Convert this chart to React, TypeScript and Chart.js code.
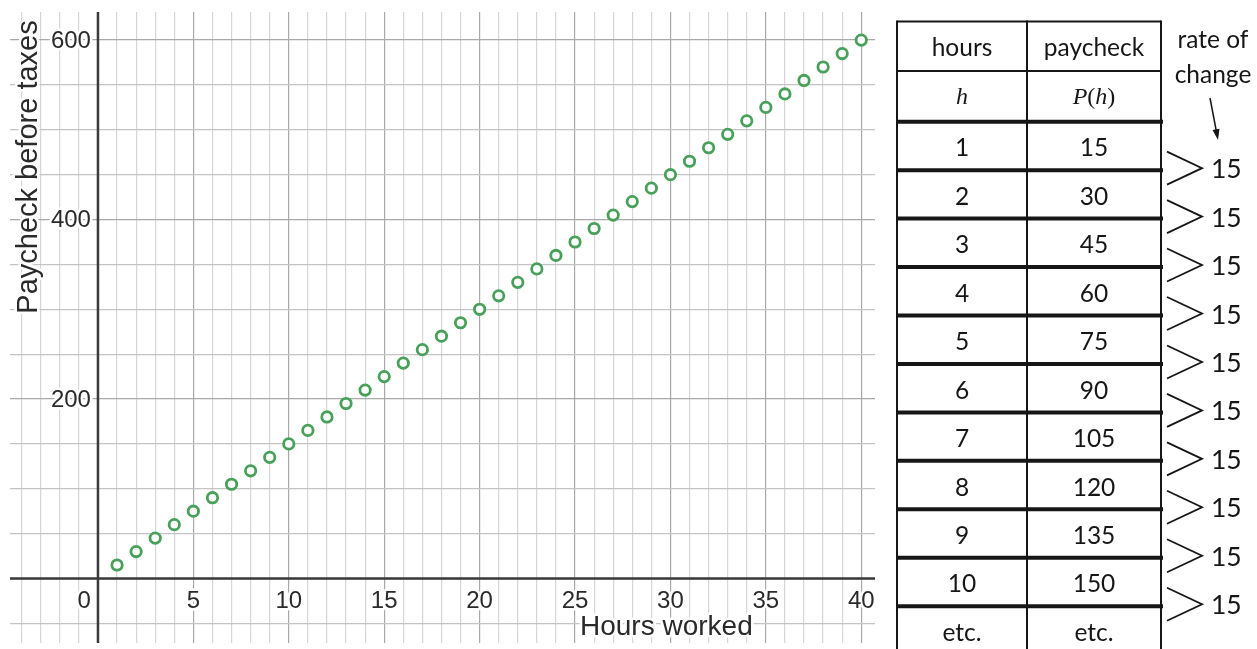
import React, { useEffect, useRef } from "react";
import { Chart, registerables } from "chart.js";

Chart.register(...registerables);

// ---- data ----
const hoursWorked = [1, 2, 3, 4, 5, 6, 7, 8, 9, 10, 11, 12, 13, 14, 15, 16, 17, 18, 19, 20, 21, 22, 23, 24, 25, 26, 27, 28, 29, 30, 31, 32, 33, 34, 35, 36, 37, 38, 39, 40];
const paycheckValues = [15, 30, 45, 60, 75, 90, 105, 120, 135, 150, 165, 180, 195, 210, 225, 240, 255, 270, 285, 300, 315, 330, 345, 360, 375, 390, 405, 420, 435, 450, 465, 480, 495, 510, 525, 540, 555, 570, 585, 600];
const xTickLabels = [0, 5, 10, 15, 20, 25, 30, 35, 40];
const yTickLabels = [200, 400, 600];
const xAxisTitle = "Hours worked";
const yAxisTitle = "Paycheck before taxes";

const tableHeaders = ["hours", "paycheck"];
const tableHours = ["1", "2", "3", "4", "5", "6", "7", "8", "9", "10", "etc."];
const tablePaycheck = ["15", "30", "45", "60", "75", "90", "105", "120", "135", "150", "etc."];
const rateOfChange = ["15", "15", "15", "15", "15", "15", "15", "15", "15", "15"];
const rateTitle = ["rate of", "change"];

// ---- style ----
const GREEN = "#48a05a";
const MINOR = "#d6d6d6";
const MAJOR = "#a9a9a9";
const AXIS = "#3a3a3a";
const LABEL = "#2a2a2a";
const SANS = '"Liberation Sans", Arial, sans-serif';
const TABLE_FONT = 'Lato, "Open Sans", sans-serif';

const X_MIN = -4.61;
const X_MAX = 40.72;
const Y_MIN = -71.9;
const Y_MAX = 631.3;

const gridX: number[] = [];
for (let v = -4; v <= 40; v++) gridX.push(v);
const gridY: number[] = [];
for (let v = -50; v <= 600; v += 50) gridY.push(v);

const desmosPlugin = {
  id: "desmosAxes",
  beforeDatasetsDraw(chart: any) {
    const { ctx, chartArea, scales } = chart;
    const x = scales.x;
    const y = scales.y;
    const x0 = x.getPixelForValue(0);
    const y0 = y.getPixelForValue(0);
    ctx.save();
    // axes
    ctx.strokeStyle = AXIS;
    ctx.lineWidth = 2.5;
    ctx.beginPath();
    ctx.moveTo(chartArea.left, y0);
    ctx.lineTo(chartArea.right, y0);
    ctx.moveTo(x0, chartArea.top);
    ctx.lineTo(x0, chartArea.bottom);
    ctx.stroke();

    // tick labels with white halo
    ctx.font = `24px ${SANS}`;
    ctx.lineJoin = "round";
    ctx.textBaseline = "middle";
    const drawLabel = (t: string, px: number, py: number) => {
      ctx.strokeStyle = "white";
      ctx.lineWidth = 5;
      ctx.strokeText(t, px, py);
      ctx.fillStyle = LABEL;
      ctx.fillText(t, px, py);
    };
    for (const v of xTickLabels) {
      if (v === 0) {
        ctx.textAlign = "right";
        drawLabel(String(v), x0 - 7, y0 + 23);
      } else {
        ctx.textAlign = "center";
        drawLabel(String(v), x.getPixelForValue(v), y0 + 23);
      }
    }
    ctx.textAlign = "right";
    for (const v of yTickLabels) {
      drawLabel(String(v), x0 - 7, y.getPixelForValue(v) + 1);
    }

    // axis titles
    ctx.font = `28px ${SANS}`;
    ctx.textBaseline = "alphabetic";
    ctx.textAlign = "left";
    ctx.strokeStyle = "white";
    ctx.lineWidth = 5;
    ctx.strokeText(xAxisTitle, 570, chartArea.bottom - 8);
    ctx.fillStyle = LABEL;
    ctx.fillText(xAxisTitle, 570, chartArea.bottom - 8);

    ctx.translate(27, 155);
    ctx.rotate(-Math.PI / 2);
    ctx.font = `29px ${SANS}`;
    ctx.textAlign = "center";
    ctx.strokeText(yAxisTitle, 0, 0);
    ctx.fillText(yAxisTitle, 0, 0);
    ctx.restore();
  },
};

function PlotCanvas() {
  const ref = useRef<HTMLCanvasElement | null>(null);
  useEffect(() => {
    if (!ref.current) return;
    const chart = new Chart(ref.current, {
      type: "scatter",
      data: {
        datasets: [
          {
            data: hoursWorked.map((h, i) => ({ x: h, y: paycheckValues[i] })),
            pointRadius: 5.2,
            pointBorderWidth: 2.8,
            borderColor: GREEN,
            backgroundColor: "white",
            pointBackgroundColor: "white",
            pointBorderColor: GREEN,
          },
        ],
      },
      options: {
        animation: false,
        responsive: false,
        maintainAspectRatio: false,
        devicePixelRatio: 1,
        layout: { padding: 0, autoPadding: false },
        plugins: { legend: { display: false }, tooltip: { enabled: false } },
        events: [],
        scales: {
          x: {
            type: "linear",
            min: X_MIN,
            max: X_MAX,
            afterBuildTicks: (s: any) => {
              s.ticks = gridX.map((v) => ({ value: v }));
            },
            ticks: { display: false },
            border: { display: false },
            grid: {
              drawTicks: false,
              lineWidth: 1.2,
              color: (c: any) => (c.tick && c.tick.value % 5 === 0 ? MAJOR : MINOR),
            },
          },
          y: {
            type: "linear",
            min: Y_MIN,
            max: Y_MAX,
            afterBuildTicks: (s: any) => {
              s.ticks = gridY.map((v) => ({ value: v }));
            },
            ticks: { display: false },
            border: { display: false },
            grid: {
              drawTicks: false,
              lineWidth: 1.2,
              color: (c: any) => (c.tick && c.tick.value % 200 === 0 ? MAJOR : "#c4c4c4"),
            },
          },
        },
      },
      plugins: [desmosPlugin],
    } as any);
    return () => chart.destroy();
  }, []);
  return (
    <canvas
      ref={ref}
      width={865}
      height={631}
      style={{ position: "absolute", left: 10, top: 12, width: 865, height: 631 }}
    />
  );
}

function RateTable() {
  const L = 897;
  const M = 1027;
  const R = 1161;
  const c1 = (L + M) / 2;
  const c2 = (M + R) / 2;
  const top = 21.5;
  const headLine = 71;
  const bodyTop = 121.7;
  const rowH = 48.45;
  const bounds = tableHours.map((_, i) => bodyTop + rowH * (i + 1));
  const ink = "#161616";
  return (
    <svg
      width={1257}
      height={649}
      style={{ position: "absolute", left: 0, top: 0, overflow: "hidden" }}
    >
      {/* vertical borders */}
      {[L, M, R].map((xv) => (
        <line key={"v" + xv} x1={xv} x2={xv} y1={top - 1} y2={649} stroke={ink} strokeWidth={2} />
      ))}
      <line x1={L} x2={R} y1={top} y2={top} stroke={ink} strokeWidth={2} />
      <line x1={L} x2={R} y1={headLine} y2={headLine} stroke={ink} strokeWidth={2} />
      <line x1={L} x2={R + 2} y1={bodyTop} y2={bodyTop} stroke={ink} strokeWidth={4} />
      {bounds.slice(0, tableHours.length - 1).map((b, i) => (
        <line key={"h" + i} x1={L} x2={R + 2} y1={b} y2={b} stroke={ink} strokeWidth={4} />
      ))}
      {/* headers */}
      <g fontFamily={TABLE_FONT} fontSize={24.5} fill={ink} textAnchor="middle" dominantBaseline="central">
        <text x={c1} y={(top + headLine) / 2}>{tableHeaders[0]}</text>
        <text x={c2} y={(top + headLine) / 2}>{tableHeaders[1]}</text>
      </g>
      <g fontFamily='"Liberation Serif", "DejaVu Serif", serif' fontSize={24} fill={ink} textAnchor="middle" dominantBaseline="central">
        <text x={c1} y={(headLine + bodyTop) / 2} fontStyle="italic">h</text>
        <text x={c2} y={(headLine + bodyTop) / 2}>
          <tspan fontStyle="italic">P</tspan>(<tspan fontStyle="italic">h</tspan>)
        </text>
      </g>
      {/* body */}
      <g fontFamily={TABLE_FONT} fontSize={24.5} fill={ink} textAnchor="middle" dominantBaseline="central">
        {tableHours.map((h, i) => {
          const yc = bodyTop + rowH * (i + 0.5) + 1;
          return (
            <React.Fragment key={"r" + i}>
              <text x={c1} y={yc}>{h}</text>
              <text x={c2} y={yc}>{tablePaycheck[i]}</text>
            </React.Fragment>
          );
        })}
      </g>
      {/* rate of change annotation */}
      <g fontFamily={TABLE_FONT} fontSize={24.5} fill={ink} textAnchor="middle" dominantBaseline="central">
        <text x={1213} y={38}>{rateTitle[0]}</text>
        <text x={1213} y={73}>{rateTitle[1]}</text>
      </g>
      <line x1={1210} y1={98} x2={1216.5} y2={132} stroke={ink} strokeWidth={1.5} />
      <polygon points="1218,140 1212.5,130 1219.5,128.7" fill={ink} />
      {rateOfChange.map((r, i) => {
        const yc = bounds[i] - 2;
        return (
          <g key={"roc" + i}>
            <polyline
              points={`1167,${yc - 16.5} 1202,${yc} 1167,${yc + 16.5}`}
              fill="none"
              stroke={ink}
              strokeWidth={1.8}
            />
            <text
              x={1211}
              y={yc}
              fontFamily={TABLE_FONT}
              fontSize={26.5}
              fill={ink}
              dominantBaseline="central"
            >
              {r}
            </text>
          </g>
        );
      })}
    </svg>
  );
}

export default function App() {
  return (
    <div
      style={{
        position: "fixed",
        left: 0,
        top: 0,
        width: 1257,
        height: 649,
        background: "white",
        overflow: "hidden",
      }}
    >
      <PlotCanvas />
      <RateTable />
    </div>
  );
}
